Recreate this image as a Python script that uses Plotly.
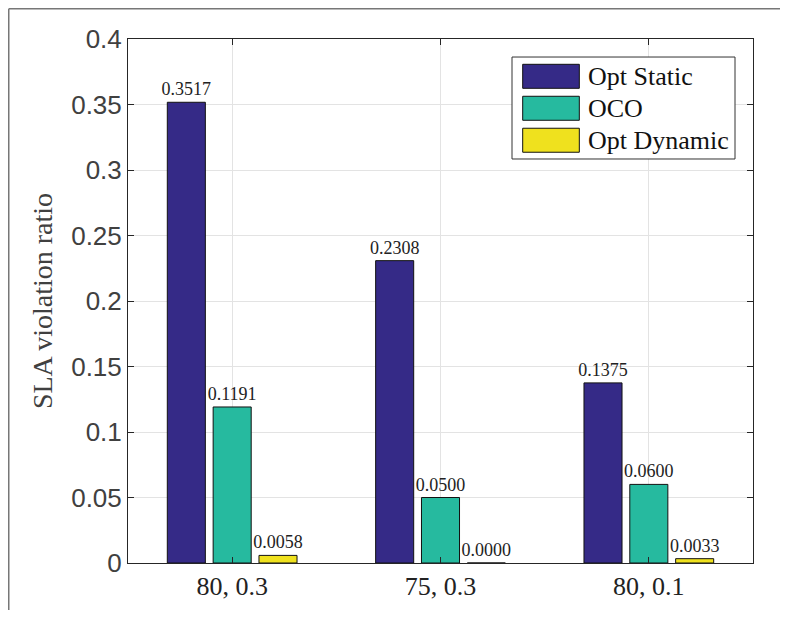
import plotly.graph_objects as go

categories = ["80, 0.3", "75, 0.3", "80, 0.1"]
series_names = ["Opt Static", "OCO", "Opt Dynamic"]
opt_static = [0.3517, 0.2308, 0.1375]
oco = [0.1191, 0.0500, 0.0600]
opt_dynamic = [0.0058, 0.0000, 0.0033]
y_ticks = [0, 0.05, 0.1, 0.15, 0.2, 0.25, 0.3, 0.35, 0.4]
y_tick_labels = ["0", "0.05", "0.1", "0.15", "0.2", "0.25", "0.3", "0.35", "0.4"]

colors = ["#352A87", "#26BA9F", "#EFE11E"]
serif = "Liberation Serif"
sans = "Liberation Sans"

fig = go.Figure()
for name, vals, col in zip(series_names, [opt_static, oco, opt_dynamic], colors):
    fig.add_trace(go.Bar(
        x=categories, y=vals, name=name,
        marker=dict(color=col, line=dict(color="#111111", width=1)),
        text=[f"{v:.4f}" for v in vals], textposition="outside",
        textfont=dict(family=serif, size=18, color="#222222"),
        constraintext="none", cliponaxis=False, showlegend=False,
    ))

# Legend drawn as a boxed key (wide swatches, as in the original)
shapes = [
    dict(type="line", xref="paper", yref="paper", x0=-0.1908, x1=1.05, y0=1.0577, y1=1.0577,
         line=dict(color="#777777", width=1.5)),
    dict(type="line", xref="paper", yref="paper", x0=-0.1908, x1=-0.1908, y0=1.0577, y1=-0.1,
         line=dict(color="#777777", width=1.5)),
    dict(type="rect", xref="paper", yref="paper", x0=0.6144, x1=0.9712, y0=0.7710, y1=0.9656,
         fillcolor="white", line=dict(color="#333333", width=1), layer="above"),
]
annotations = []
row_top, row_h, row_pitch = 0.9517, 0.0458, 0.061
for i, (name, col) in enumerate(zip(series_names, colors)):
    top = row_top - i * row_pitch
    shapes.append(dict(type="rect", xref="paper", yref="paper", x0=0.6315, x1=0.7221,
                       y0=top - row_h, y1=top, fillcolor=col,
                       line=dict(color="#111111", width=1), layer="above"))
    annotations.append(dict(xref="paper", yref="paper", x=0.7328, y=top - row_h / 2,
                            xanchor="left", yanchor="middle", text=name, showarrow=False,
                            font=dict(family=serif, size=26, color="#111111")))

fig.update_layout(
    width=772, height=602,
    margin=dict(l=120, r=27, t=31, b=47, autoexpand=False),
    paper_bgcolor="white", plot_bgcolor="white",
    barmode="group", bargap=0.34, bargroupgap=0.17,
    xaxis=dict(range=[-0.5, 2.5], showline=True, linecolor="#262626", linewidth=1,
               mirror="allticks", ticks="inside", ticklen=6, tickcolor="#262626",
               showgrid=True, gridcolor="#E3E3E3",
               tickfont=dict(family=serif, size=26, color="#222222")),
    yaxis=dict(range=[0, 0.4], tickvals=y_ticks, ticktext=y_tick_labels,
               showline=True, linecolor="#262626", linewidth=1,
               mirror="allticks", ticks="inside", ticklen=6, tickcolor="#262626",
               showgrid=True, gridcolor="#E3E3E3", zeroline=False,
               tickfont=dict(family=sans, size=26, color="#404040"),
               title=dict(text="SLA violation ratio", font=dict(family=serif, size=28, color="#404040"),
                          standoff=10)),
    shapes=shapes,
    annotations=annotations,
)

fig.write_html("out.html")
